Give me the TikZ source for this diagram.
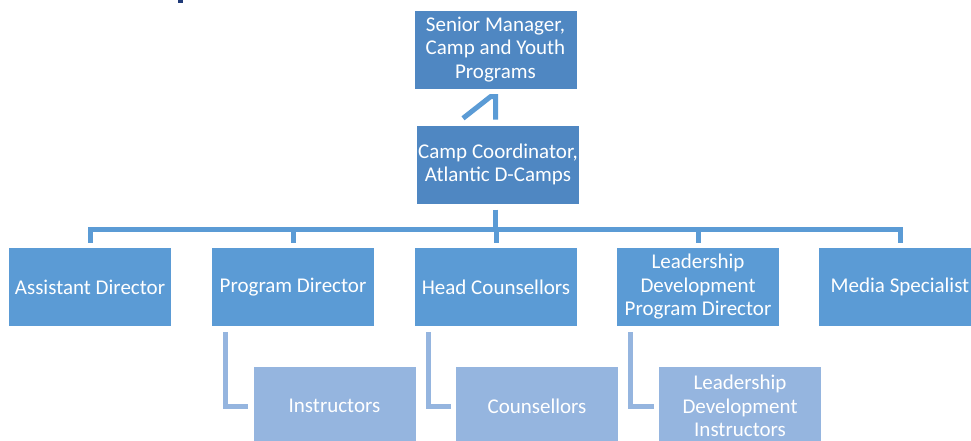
\documentclass[tikz,border=0pt]{standalone}
\usepackage{fontspec}
\setmainfont{Carlito}
\usetikzlibrary{calc}
\definecolor{topblue}{HTML}{4F87C2}
\definecolor{midblue}{HTML}{5B9BD5}
\definecolor{lightblue}{HTML}{95B5DF}
\definecolor{navy}{HTML}{1F3A78}
\begin{document}
\begin{tikzpicture}[x=1pt,y=-1pt,
  box/.style={rectangle, draw=none, text=white, align=center,
    font=\fontsize{21}{23.5}\selectfont, minimum width=162pt,
    minimum height=78pt, inner sep=0pt},
  topbox/.style={box, fill=topblue},
  rowbox/.style={box, fill=midblue},
  subbox/.style={box, fill=lightblue},
  conn/.style={draw=midblue, line width=5pt, line join=miter},
  subconn/.style={draw=lightblue, line width=5pt, line join=miter}]
\useasboundingbox (0,0) rectangle (971,440);
\fill[navy] (178,0) rectangle (183,2.5);

\node[topbox] (top) at (495.5,49.5) {Senior Manager,\\Camp and Youth\\Programs};
\node[topbox] (coord) at (498,164.5) {Camp Coordinator,\\Atlantic D-Camps};

\node[rowbox] (ad) at (90,287) {Assistant Director};
\node[rowbox] (pd) at (293,287) {Program Director};
\node[rowbox] (hc) at (496,287) {Head Counsellors};
\node[rowbox] (ld) at (698,287) {Leadership\\Development\\Program Director};
\node[rowbox] (ms) at (900,287) {Media Specialist};

\node[subbox] (ins) at (334.5,406) {Instructors};
\node[subbox] (cou) at (537,406) {Counsellors};
\node[subbox] (ldi) at (740,406) {Leadership\\Development\\Instructors};

% top connector
\draw[conn] ($(coord.north)+(-35,-7)$) -- ($(top.south)+(-5,8)$)
  -- ($(top.south)+(0,8)$) -- ($(top.south)+(0,31)$);

% main tree
\coordinate (bar) at ($(coord.south)+(-3,25.5)$);
\draw[conn] ($(coord.south)+(-3,6)$) -- (bar);
\foreach \n in {ad,pd,hc,ld,ms}{
  \draw[conn] ($(\n.north)+(0,-5)$) |- (bar);
}

% sub connectors
\draw[subconn] ($(pd.south west)+(14,6)$) |- ($(ins.west)+(-5,0)$);
\draw[subconn] ($(hc.south west)+(14,6)$) |- ($(cou.west)+(-5,0)$);
\draw[subconn] ($(ld.south west)+(14,6)$) |- ($(ldi.west)+(-5,0)$);
\end{tikzpicture}
\end{document}
